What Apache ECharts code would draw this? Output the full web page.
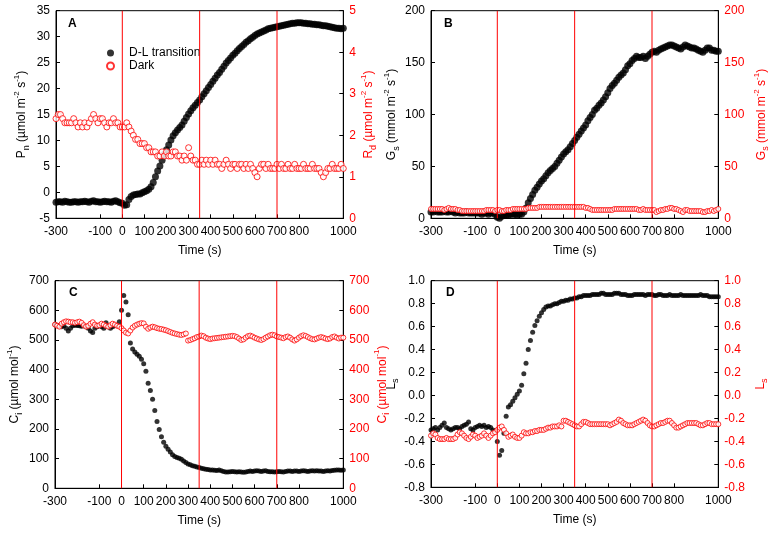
<!DOCTYPE html>
<html><head><meta charset="utf-8">
<script src="https://cdn.jsdelivr.net/npm/echarts@6/dist/echarts.min.js"></script>
<style>html,body{margin:0;padding:0;background:#fff}#c{width:774px;height:533px}</style>
</head><body><div id="c"></div>
<script>
// Sampling times (s)
const time = [-300,-290,-280,-270,-260,-250,-240,-230,-220,-210,
-200,-190,-180,-170,-160,-150,-140,-130,-120,-110,
-100,-90,-80,-70,-60,-50,-40,-30,-20,-10,
0,10,20,30,40,50,60,70,80,90,
100,110,120,130,140,150,160,170,180,190,
200,210,220,230,240,250,260,270,280,290,
300,310,320,330,340,350,360,370,380,390,
400,410,420,430,440,450,460,470,480,490,
500,510,520,530,540,550,560,570,580,590,
600,610,620,630,640,650,660,670,680,690,
700,710,720,730,740,750,760,770,780,790,
800,810,820,830,840,850,860,870,880,890,
900,910,920,930,940,950,960,970,980,990,1000];
const eventTimes = [0, 350, 700];
const xTicks = {min:-300, max:1000, step:100};

// Panel A: Pn (D-L transition), Rd (Dark)
const pnDL = [-1.9,-1.8,-1.8,-1.9,-1.7,-1.8,-1.9,-1.9,-1.8,-1.8,
-1.9,-1.8,-1.8,-1.7,-1.8,-1.9,-1.7,-1.6,-1.8,-1.8,
-1.9,-1.8,-1.7,-1.8,-1.8,-1.9,-1.7,-1.6,-1.8,-2.0,
-2.1,-2.5,-2.4,-1.4,-0.8,-0.5,-0.4,-0.3,-0.3,-0.1,
0.1,0.3,0.6,1.1,1.9,3.0,4.1,5.1,6.2,7.3,
8.2,9.1,10.1,10.9,11.5,12.0,12.5,13.0,13.7,14.4,
15.1,15.7,16.3,16.8,17.3,17.8,18.4,19.0,19.6,20.2,
20.8,21.4,22.0,22.6,23.1,23.7,24.3,24.9,25.4,25.9,
26.4,26.8,27.3,27.7,28.1,28.5,28.9,29.2,29.6,29.9,
30.2,30.5,30.7,30.9,31.1,31.3,31.5,31.6,31.7,31.8,
31.9,32.0,32.1,32.2,32.3,32.4,32.5,32.6,32.6,32.7,
32.7,32.7,32.6,32.6,32.5,32.5,32.4,32.4,32.3,32.3,
32.2,32.1,32.1,32.0,31.9,31.8,31.7,31.6,31.6,31.5,31.6];
const rdDark = [2.4,2.5,2.5,2.4,2.3,2.3,2.3,2.3,2.4,2.3,
2.2,2.3,2.2,2.3,2.2,2.3,2.4,2.5,2.4,2.3,
2.4,2.4,2.3,2.2,2.3,2.3,2.4,2.3,2.3,2.2,
2.2,2.2,2.3,2.2,2.1,2.0,1.9,1.9,1.8,1.8,
1.8,1.7,1.7,1.6,1.6,1.6,1.5,1.5,1.6,1.5,
1.6,1.5,1.5,1.6,1.6,1.5,1.5,1.4,1.5,1.4,
1.7,1.5,1.4,1.4,1.3,1.3,1.4,1.3,1.4,1.3,
1.4,1.3,1.4,1.3,1.3,1.2,1.3,1.4,1.3,1.2,
1.3,1.3,1.2,1.3,1.3,1.2,1.3,1.2,1.3,1.2,
1.1,1.0,1.2,1.3,1.3,1.2,1.3,1.2,1.2,1.2,
1.3,1.2,1.3,1.2,1.2,1.3,1.2,1.2,1.3,1.2,
1.2,1.2,1.3,1.2,1.2,1.2,1.3,1.2,1.2,1.2,
1.1,1.0,1.1,1.2,1.2,1.3,1.2,1.2,1.2,1.3,1.2];

// Panel B: Gs
const gsDL = [6,6,7,6,6,6,7,6,6,7,
6,5,6,5,5,5,6,5,5,5,
5,5,5,4,5,5,4,5,5,4,
1,0,2,3,3,3,4,4,4,3,
4,4,6,10,15,19,23,27,30,33,
36,38,41,44,46,48,50,53,56,59,
62,64,66,69,72,75,78,81,84,87,
90,94,97,100,104,106,109,111,114,117,
121,125,128,130,133,136,138,140,143,147,
149,152,154,156,155,155,156,154,156,158,
160,161,160,162,163,164,165,166,167,167,
166,165,164,163,165,167,166,165,164,164,
163,162,161,160,162,164,164,162,162,161,161];
const gsDark = [9,9,9,9,9,9,8,9,10,9,
9,9,8,8,7,7,7,7,7,7,
7,7,7,7,7,8,8,8,8,7,
8,8,7,7,8,8,8,9,9,9,
9,9,9,9,10,10,10,10,10,11,
11,11,11,11,11,11,11,11,11,11,
11,11,11,11,11,11,11,11,11,11,
10,10,9,8,8,8,8,8,8,8,
8,8,8,9,9,9,9,9,9,9,
9,9,9,9,8,8,9,8,8,8,
8,8,6,7,8,8,9,9,10,10,
9,9,8,7,6,8,8,7,7,7,
7,7,7,6,6,7,7,8,7,8,9];

// Panel C: Ci
const ciDL = [552,550,548,545,548,540,530,540,548,550,
549,548,546,548,545,540,530,525,540,545,
550,545,540,558,545,540,545,550,548,562,
600,650,628,585,490,470,460,452,445,435,
420,395,354,330,300,262,225,198,174,155,
142,132,122,113,107,104,101,98,92,87,
82,79,76,74,72,70,68,66,64,63,
62,62,61,60,62,59,57,55,55,56,
57,56,55,56,55,54,55,57,58,57,
58,59,58,57,58,59,57,56,56,55,
56,57,56,55,57,58,58,57,58,58,
57,58,59,58,57,58,59,58,59,58,
58,57,58,59,58,60,61,62,62,61,62];
const ciDark = [552,548,545,555,560,563,562,560,560,558,
560,562,558,550,545,548,555,560,552,548,
550,555,552,548,545,550,555,552,548,545,
540,532,525,522,532,542,548,552,555,557,
556,545,538,542,545,543,540,538,537,535,
533,530,527,524,522,520,518,517,519,522,
498,500,503,506,510,512,515,513,508,505,
503,505,506,507,508,509,510,511,512,513,
514,513,510,505,500,502,508,513,515,512,
508,505,502,500,503,508,512,516,518,516,
512,510,508,506,510,512,508,502,498,502,
508,513,516,514,510,506,503,502,505,508,
510,508,505,503,505,510,512,508,505,508,508];

// Panel D: Ls
const lsDL = [-0.30,-0.29,-0.28,-0.30,-0.28,-0.26,-0.24,-0.28,-0.29,-0.30,
-0.29,-0.28,-0.28,-0.29,-0.27,-0.26,-0.25,-0.23,-0.29,-0.30,
-0.28,-0.27,-0.26,-0.27,-0.26,-0.28,-0.27,-0.28,-0.30,-0.31,
-0.40,-0.52,-0.48,-0.33,-0.18,-0.10,-0.08,-0.05,-0.02,0.01,
0.04,0.09,0.19,0.28,0.40,0.48,0.55,0.61,0.65,0.69,
0.72,0.75,0.77,0.78,0.78,0.79,0.80,0.80,0.81,0.82,
0.82,0.83,0.83,0.84,0.84,0.85,0.85,0.86,0.86,0.87,
0.87,0.87,0.87,0.88,0.88,0.88,0.88,0.89,0.89,0.88,
0.88,0.88,0.88,0.89,0.89,0.89,0.88,0.88,0.88,0.87,
0.87,0.87,0.88,0.88,0.88,0.88,0.88,0.87,0.88,0.88,
0.88,0.87,0.87,0.88,0.88,0.87,0.87,0.87,0.88,0.87,
0.87,0.87,0.87,0.88,0.87,0.87,0.87,0.87,0.87,0.87,
0.87,0.87,0.88,0.87,0.87,0.87,0.86,0.86,0.86,0.86,0.86];
const lsDark = [-0.35,-0.33,-0.34,-0.37,-0.38,-0.38,-0.38,-0.37,-0.38,-0.38,
-0.38,-0.37,-0.34,-0.32,-0.33,-0.35,-0.37,-0.38,-0.36,-0.34,
-0.35,-0.37,-0.36,-0.35,-0.33,-0.35,-0.37,-0.35,-0.33,-0.32,
-0.30,-0.28,-0.27,-0.30,-0.33,-0.36,-0.35,-0.34,-0.36,-0.37,
-0.37,-0.35,-0.32,-0.33,-0.33,-0.32,-0.32,-0.31,-0.31,-0.30,
-0.30,-0.30,-0.29,-0.28,-0.28,-0.27,-0.27,-0.27,-0.26,-0.27,
-0.22,-0.22,-0.23,-0.24,-0.25,-0.26,-0.27,-0.27,-0.25,-0.23,
-0.23,-0.24,-0.25,-0.25,-0.25,-0.25,-0.25,-0.25,-0.25,-0.25,
-0.25,-0.26,-0.25,-0.24,-0.23,-0.21,-0.22,-0.24,-0.25,-0.26,
-0.26,-0.26,-0.25,-0.24,-0.23,-0.22,-0.21,-0.22,-0.24,-0.26,
-0.27,-0.27,-0.26,-0.25,-0.24,-0.24,-0.23,-0.22,-0.22,-0.24,
-0.26,-0.28,-0.28,-0.27,-0.26,-0.25,-0.24,-0.24,-0.24,-0.24,
-0.24,-0.25,-0.26,-0.26,-0.25,-0.24,-0.24,-0.25,-0.25,-0.25,-0.25];

const FONT = "'Liberation Sans', Arial, Helvetica, sans-serif";
const RED = '#ff0000';
const chart = echarts.init(document.getElementById('c'), null, {renderer: 'canvas'});

const grids = [
  {left: 56, top: 10.7, width: 287.3, height: 207.6},
  {left: 431, top: 10.7, width: 287.3, height: 207.6},
  {left: 55, top: 280.7, width: 288.3, height: 207.6},
  {left: 431, top: 280.7, width: 287.3, height: 206.6}
].map(g => Object.assign({show: true, borderColor: '#000', borderWidth: 1, backgroundColor: 'transparent'}, g));

function xAx(gi) {
  return {
    type: 'value', gridIndex: gi, min: xTicks.min, max: xTicks.max, interval: xTicks.step,
    name: 'Time (s)', nameLocation: 'middle', nameGap: 26,
    nameTextStyle: {color: '#000', fontSize: 12, fontFamily: FONT},
    axisLine: {show: true, onZero: false, lineStyle: {color: '#000', width: 1}},
    axisTick: {show: true, inside: true, length: 4, lineStyle: {color: '#000'}},
    axisLabel: {color: '#000', fontSize: 12, fontFamily: FONT, margin: 7, hideOverlap: false,
      width: 18, overflow: 'none', align: 'center',
      showMinLabel: true, showMaxLabel: true, formatter: v => String(v)},
    splitLine: {show: false}
  };
}
function richStyles(color) {
  return {
    b: {fontSize: 12, fontFamily: FONT, color: color, lineHeight: 18},
    s: {fontSize: 9, fontFamily: FONT, color: color, lineHeight: 9, verticalAlign: 'bottom'},
    p: {fontSize: 8, fontFamily: FONT, color: color, lineHeight: 9, verticalAlign: 'top'}
  };
}
function yAx(gi, pos, min, max, step, name, gap, color, fmt) {
  return {
    type: 'value', gridIndex: gi, position: pos, min: min, max: max, interval: step,
    name: name, nameLocation: 'middle', nameGap: gap, nameRotate: 90,
    nameTextStyle: {color: color, fontSize: 12, fontFamily: FONT, rich: richStyles(color)},
    axisLine: {show: true, onZero: false, lineStyle: {color: '#000', width: 1}},
    axisTick: {show: true, inside: true, length: 4, lineStyle: {color: '#000'}},
    axisLabel: {color: color, fontSize: 12, fontFamily: FONT, margin: 6, showMinLabel: true, showMaxLabel: true,
      hideOverlap: false, formatter: fmt || (v => String(v))},
    splitLine: {show: false}
  };
}
const f1 = v => { const r = Math.abs(v) < 1e-9 ? 0 : v; return r.toFixed(1); };

const nmPn = '{b|P}{s|n}{b| (µmol m}{p|-2}{b| s}{p|-1}{b|)}';
const nmRd = '{b|R}{s|d}{b| (µmol m}{p|-2}{b| s}{p|-1}{b|)}';
const nmGs = '{b|G}{s|s}{b| (mmol m}{p|-2}{b| s}{p|-1}{b|)}';
const nmCi = '{b|C}{s|i}{b| (µmol mol}{p|-1}{b|)}';
const nmLs = '{b|L}{s|s}';

// left-axis ranges per panel [min, max, step]
const leftRange = [[-5, 35, 5], [0, 200, 50], [0, 700, 100], [-0.8, 1.0, 0.2]];
const rightRange = [[0, 5, 1], [0, 200, 50], [0, 700, 100], [-0.8, 1.0, 0.2]];

const xAxes = [xAx(0), xAx(1), xAx(2), xAx(3)];
const yAxes = [
  yAx(0, 'left', ...leftRange[0], nmPn, 25, '#000'),
  yAx(0, 'right', ...rightRange[0], nmRd, 14, RED),
  yAx(1, 'left', ...leftRange[1], nmGs, 29, '#000'),
  yAx(1, 'right', ...rightRange[1], nmGs, 34, RED),
  yAx(2, 'left', ...leftRange[2], nmCi, 31, '#000'),
  yAx(2, 'right', ...rightRange[2], nmCi, 20, RED),
  yAx(3, 'left', ...leftRange[3], nmLs, 29, '#000', f1),
  yAx(3, 'right', ...rightRange[3], nmLs, 33, RED, f1)
];

const pairs = arr => time.map((t, i) => [t, arr[i]]);
function blackSeries(gi, yi, arr, size) {
  return {
    type: 'scatter', name: 'D-L transition', xAxisIndex: gi, yAxisIndex: yi, data: pairs(arr),
    symbol: 'circle', symbolSize: size, itemStyle: {color: '#000'}, z: 2
  };
}
function redSeries(gi, yi, arr, size) {
  return {
    type: 'scatter', name: 'Dark', xAxisIndex: gi, yAxisIndex: yi, data: pairs(arr),
    symbol: 'circle', symbolSize: size, itemStyle: {color: '#fff', borderColor: RED, borderWidth: 1}, z: 3
  };
}
// vertical event lines at the transition times, spanning each panel's left-axis range
function eventLines(gi, yi) {
  const r = leftRange[gi];
  return eventTimes.map(t => ({
    type: 'line', xAxisIndex: gi, yAxisIndex: yi, silent: true, showSymbol: false, symbol: 'none',
    data: [[t, r[0]], [t, r[1]]], lineStyle: {color: RED, width: 1, type: 'solid'},
    itemStyle: {color: RED}, z: 4, legendHoverLink: false, tooltip: {show: false}
  }));
}

const letterStyle = {fontSize: 12, fontWeight: 'bold', fontFamily: FONT, color: '#000'};
chart.setOption({
  animation: false,
  backgroundColor: '#fff',
  title: [
    {text: 'A', left: 68, top: 18, padding: 0, textStyle: letterStyle},
    {text: 'B', left: 444, top: 18, padding: 0, textStyle: letterStyle},
    {text: 'C', left: 69, top: 287, padding: 0, textStyle: letterStyle},
    {text: 'D', left: 446, top: 287, padding: 0, textStyle: letterStyle}
  ],
  legend: {
    data: ['D-L transition', 'Dark'], orient: 'vertical', left: 106, top: 47, padding: 0,
    itemWidth: 7, itemHeight: 7, itemGap: 1,
    textStyle: {fontSize: 12, fontFamily: FONT, color: '#000', padding: [0, 0, 0, 10]}
  },
  grid: grids,
  xAxis: xAxes,
  yAxis: yAxes,
  series: [
    ...eventLines(0, 0), ...eventLines(1, 2), ...eventLines(2, 4), ...eventLines(3, 6),
    blackSeries(0, 0, pnDL, 7), redSeries(0, 1, rdDark, 6),
    blackSeries(1, 2, gsDL, 7), redSeries(1, 3, gsDark, 5),
    blackSeries(2, 4, ciDL, 5), redSeries(2, 5, ciDark, 5),
    blackSeries(3, 6, lsDL, 5), redSeries(3, 7, lsDark, 5)
  ]
});
</script></body></html>
